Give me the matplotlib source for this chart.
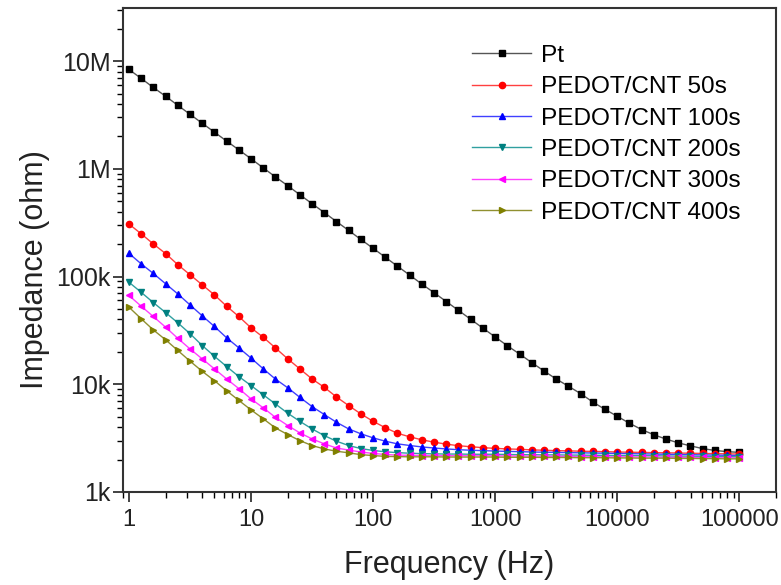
import matplotlib
matplotlib.use("Agg")
import matplotlib.pyplot as plt
from matplotlib.ticker import FixedLocator, FixedFormatter, LogLocator, NullFormatter

plt.rcParams['font.family'] = ['Liberation Sans', 'DejaVu Sans']

# frequency points (Hz), 10 per decade
freq = [1, 1.26, 1.58, 2.0, 2.51, 3.16, 3.98, 5.01, 6.31, 7.94,
        10, 12.6, 15.8, 20.0, 25.1, 31.6, 39.8, 50.1, 63.1, 79.4,
        100, 126, 158, 200, 251, 316, 398, 501, 631, 794,
        1000, 1259, 1585, 1995, 2512, 3162, 3981, 5012, 6310, 7943,
        10000, 12589, 15849, 19953, 25119, 31623, 39811, 50119, 63096, 79433,
        100000]

# impedance (ohm)
z_pt = [8.36e6, 6.90e6, 5.70e6, 4.71e6, 3.89e6, 3.21e6, 2.65e6, 2.19e6, 1.81e6, 1.50e6,
        1.24e6, 1.02e6, 843e3, 697e3, 575e3, 475e3, 393e3, 324e3, 268e3, 221e3,
        183e3, 151e3, 125e3, 103e3, 85.1e3, 70.8e3, 58.6e3, 48.5e3, 40.1e3, 33.2e3,
        27.5e3, 22.8e3, 19.1e3, 15.9e3, 13.3e3, 11.2e3, 9.6e3, 8.2e3, 6.85e3, 5.85e3,
        5.05e3, 4.35e3, 3.80e3, 3.40e3, 3.10e3, 2.86e3, 2.68e3, 2.53e3, 2.43e3, 2.37e3,
        2.33e3]
z_50 = [307e3, 249e3, 201e3, 163e3, 129e3, 104e3, 83.8e3, 67.6e3, 53.0e3, 42.6e3,
        33.4e3, 27.3e3, 21.8e3, 17.2e3, 13.9e3, 11.2e3, 9.38e3, 7.62e3, 6.34e3, 5.31e3,
        4.53e3, 3.95e3, 3.51e3, 3.25e3, 3.05e3, 2.90e3, 2.78e3, 2.69e3, 2.63e3, 2.58e3,
        2.54e3, 2.51e3, 2.49e3, 2.46e3, 2.44e3, 2.42e3, 2.41e3, 2.39e3, 2.38e3, 2.37e3,
        2.35e3, 2.34e3, 2.33e3, 2.32e3, 2.31e3, 2.30e3, 2.29e3, 2.28e3, 2.27e3, 2.26e3,
        2.25e3]
z_100 = [164e3, 131e3, 107e3, 85.5e3, 69.0e3, 54.6e3, 43.2e3, 34.4e3, 27.0e3, 21.8e3,
         17.5e3, 13.9e3, 11.2e3, 9.27e3, 7.57e3, 6.21e3, 5.24e3, 4.44e3, 3.85e3, 3.47e3,
         3.18e3, 2.96e3, 2.80e3, 2.70e3, 2.62e3, 2.56e3, 2.51e3, 2.47e3, 2.44e3, 2.42e3,
         2.40e3, 2.38e3, 2.37e3, 2.35e3, 2.34e3, 2.33e3, 2.32e3, 2.31e3, 2.30e3, 2.29e3,
         2.28e3, 2.27e3, 2.26e3, 2.25e3, 2.24e3, 2.23e3, 2.22e3, 2.21e3, 2.20e3, 2.19e3,
         2.18e3]
z_200 = [88.5e3, 71.3e3, 57.4e3, 46.2e3, 37.2e3, 29.5e3, 22.9e3, 18.2e3, 14.6e3, 11.8e3,
         9.73e3, 7.98e3, 6.58e3, 5.38e3, 4.53e3, 3.85e3, 3.34e3, 2.96e3, 2.70e3, 2.53e3,
         2.43e3, 2.36e3, 2.32e3, 2.29e3, 2.27e3, 2.26e3, 2.25e3, 2.25e3, 2.24e3, 2.24e3,
         2.24e3, 2.23e3, 2.22e3, 2.22e3, 2.21e3, 2.21e3, 2.20e3, 2.20e3, 2.19e3, 2.19e3,
         2.18e3, 2.18e3, 2.17e3, 2.17e3, 2.16e3, 2.15e3, 2.15e3, 2.14e3, 2.13e3, 2.13e3,
         2.12e3]
z_300 = [66.7e3, 53.0e3, 42.6e3, 33.8e3, 26.7e3, 21.3e3, 17.2e3, 13.9e3, 11.2e3, 9.12e3,
         7.31e3, 6.04e3, 4.94e3, 4.14e3, 3.54e3, 3.11e3, 2.80e3, 2.56e3, 2.45e3, 2.35e3,
         2.28e3, 2.23e3, 2.20e3, 2.19e3, 2.18e3, 2.17e3, 2.17e3, 2.17e3, 2.17e3, 2.17e3,
         2.17e3, 2.16e3, 2.16e3, 2.15e3, 2.15e3, 2.14e3, 2.14e3, 2.13e3, 2.13e3, 2.12e3,
         2.12e3, 2.12e3, 2.11e3, 2.11e3, 2.10e3, 2.10e3, 2.09e3, 2.09e3, 2.08e3, 2.08e3,
         2.07e3]
z_400 = [51.9e3, 40.5e3, 32.0e3, 25.8e3, 20.6e3, 16.4e3, 13.2e3, 10.8e3, 8.71e3, 7.08e3,
         5.78e3, 4.78e3, 3.94e3, 3.41e3, 3.00e3, 2.70e3, 2.51e3, 2.39e3, 2.31e3, 2.22e3,
         2.18e3, 2.14e3, 2.13e3, 2.12e3, 2.12e3, 2.12e3, 2.11e3, 2.11e3, 2.11e3, 2.11e3,
         2.11e3, 2.10e3, 2.10e3, 2.10e3, 2.09e3, 2.09e3, 2.09e3, 2.08e3, 2.08e3, 2.08e3,
         2.07e3, 2.07e3, 2.06e3, 2.06e3, 2.06e3, 2.05e3, 2.05e3, 2.04e3, 2.04e3, 2.03e3,
         2.03e3]

labels = ['Pt', 'PEDOT/CNT 50s', 'PEDOT/CNT 100s', 'PEDOT/CNT 200s',
          'PEDOT/CNT 300s', 'PEDOT/CNT 400s']
series = [z_pt, z_50, z_100, z_200, z_300, z_400]
marker_colors = ['#000000', '#ff0000', '#0000ff', '#008080', '#ff00ff', '#808000']
line_colors = ['#555555', '#ff4040', '#4040ff', '#30a0a0', '#ff40ff', '#909030']
markers = ['s', 'o', '^', 'v', '<', '>']

y_ticks = [1e3, 1e4, 1e5, 1e6, 1e7]
y_ticklabels = ['1k', '10k', '100k', '1M', '10M']
x_ticks = [1, 10, 100, 1000, 10000, 100000]
x_ticklabels = ['1', '10', '100', '1000', '10000', '100000']

fig = plt.figure(figsize=(7.81, 5.85), dpi=100)
ax = fig.add_axes([0.1575, 0.159, 0.836, 0.827])

for z, lab, mc, lc, m in zip(series, labels, marker_colors, line_colors, markers):
    ax.plot(freq, z, color=lc, lw=1.0, marker=m, markersize=4.5,
            markerfacecolor=mc, markeredgecolor=mc, label=lab)

ax.set_xscale('log')
ax.set_yscale('log')
ax.set_xlim(0.893, 2.0e5)
ax.set_ylim(1e3, 3.1e7)

ax.xaxis.set_major_locator(FixedLocator(x_ticks))
ax.xaxis.set_major_formatter(FixedFormatter(x_ticklabels))
ax.yaxis.set_major_locator(FixedLocator(y_ticks))
ax.yaxis.set_major_formatter(FixedFormatter(y_ticklabels))
ax.xaxis.set_minor_locator(LogLocator(base=10, subs=range(2, 10), numticks=20))
ax.yaxis.set_minor_locator(LogLocator(base=10, subs=range(2, 10), numticks=20))
ax.xaxis.set_minor_formatter(NullFormatter())
ax.yaxis.set_minor_formatter(NullFormatter())

ax.tick_params(which='major', direction='out', length=7, width=1.2,
               labelsize=17, colors='#222222', pad=5)
ax.tick_params(axis='y', which='major', labelsize=18, pad=2)
ax.tick_params(which='minor', direction='out', length=4, width=1.0)
for s in ax.spines.values():
    s.set_linewidth(1.5)
    s.set_color('#333333')

ax.set_xlabel('Frequency (Hz)', fontsize=22, color='#222222', labelpad=14)
ax.set_ylabel('Impedance (ohm)', fontsize=22, color='#222222')
ax.yaxis.set_label_coords(-0.112, 0.46)

ax.legend(loc='upper right', bbox_to_anchor=(0.968, 0.955), frameon=False,
          fontsize=17.6, handlelength=2.4, handletextpad=0.4, labelspacing=0.38,
          borderaxespad=0.2)

fig.savefig('out.png', dpi=100)
